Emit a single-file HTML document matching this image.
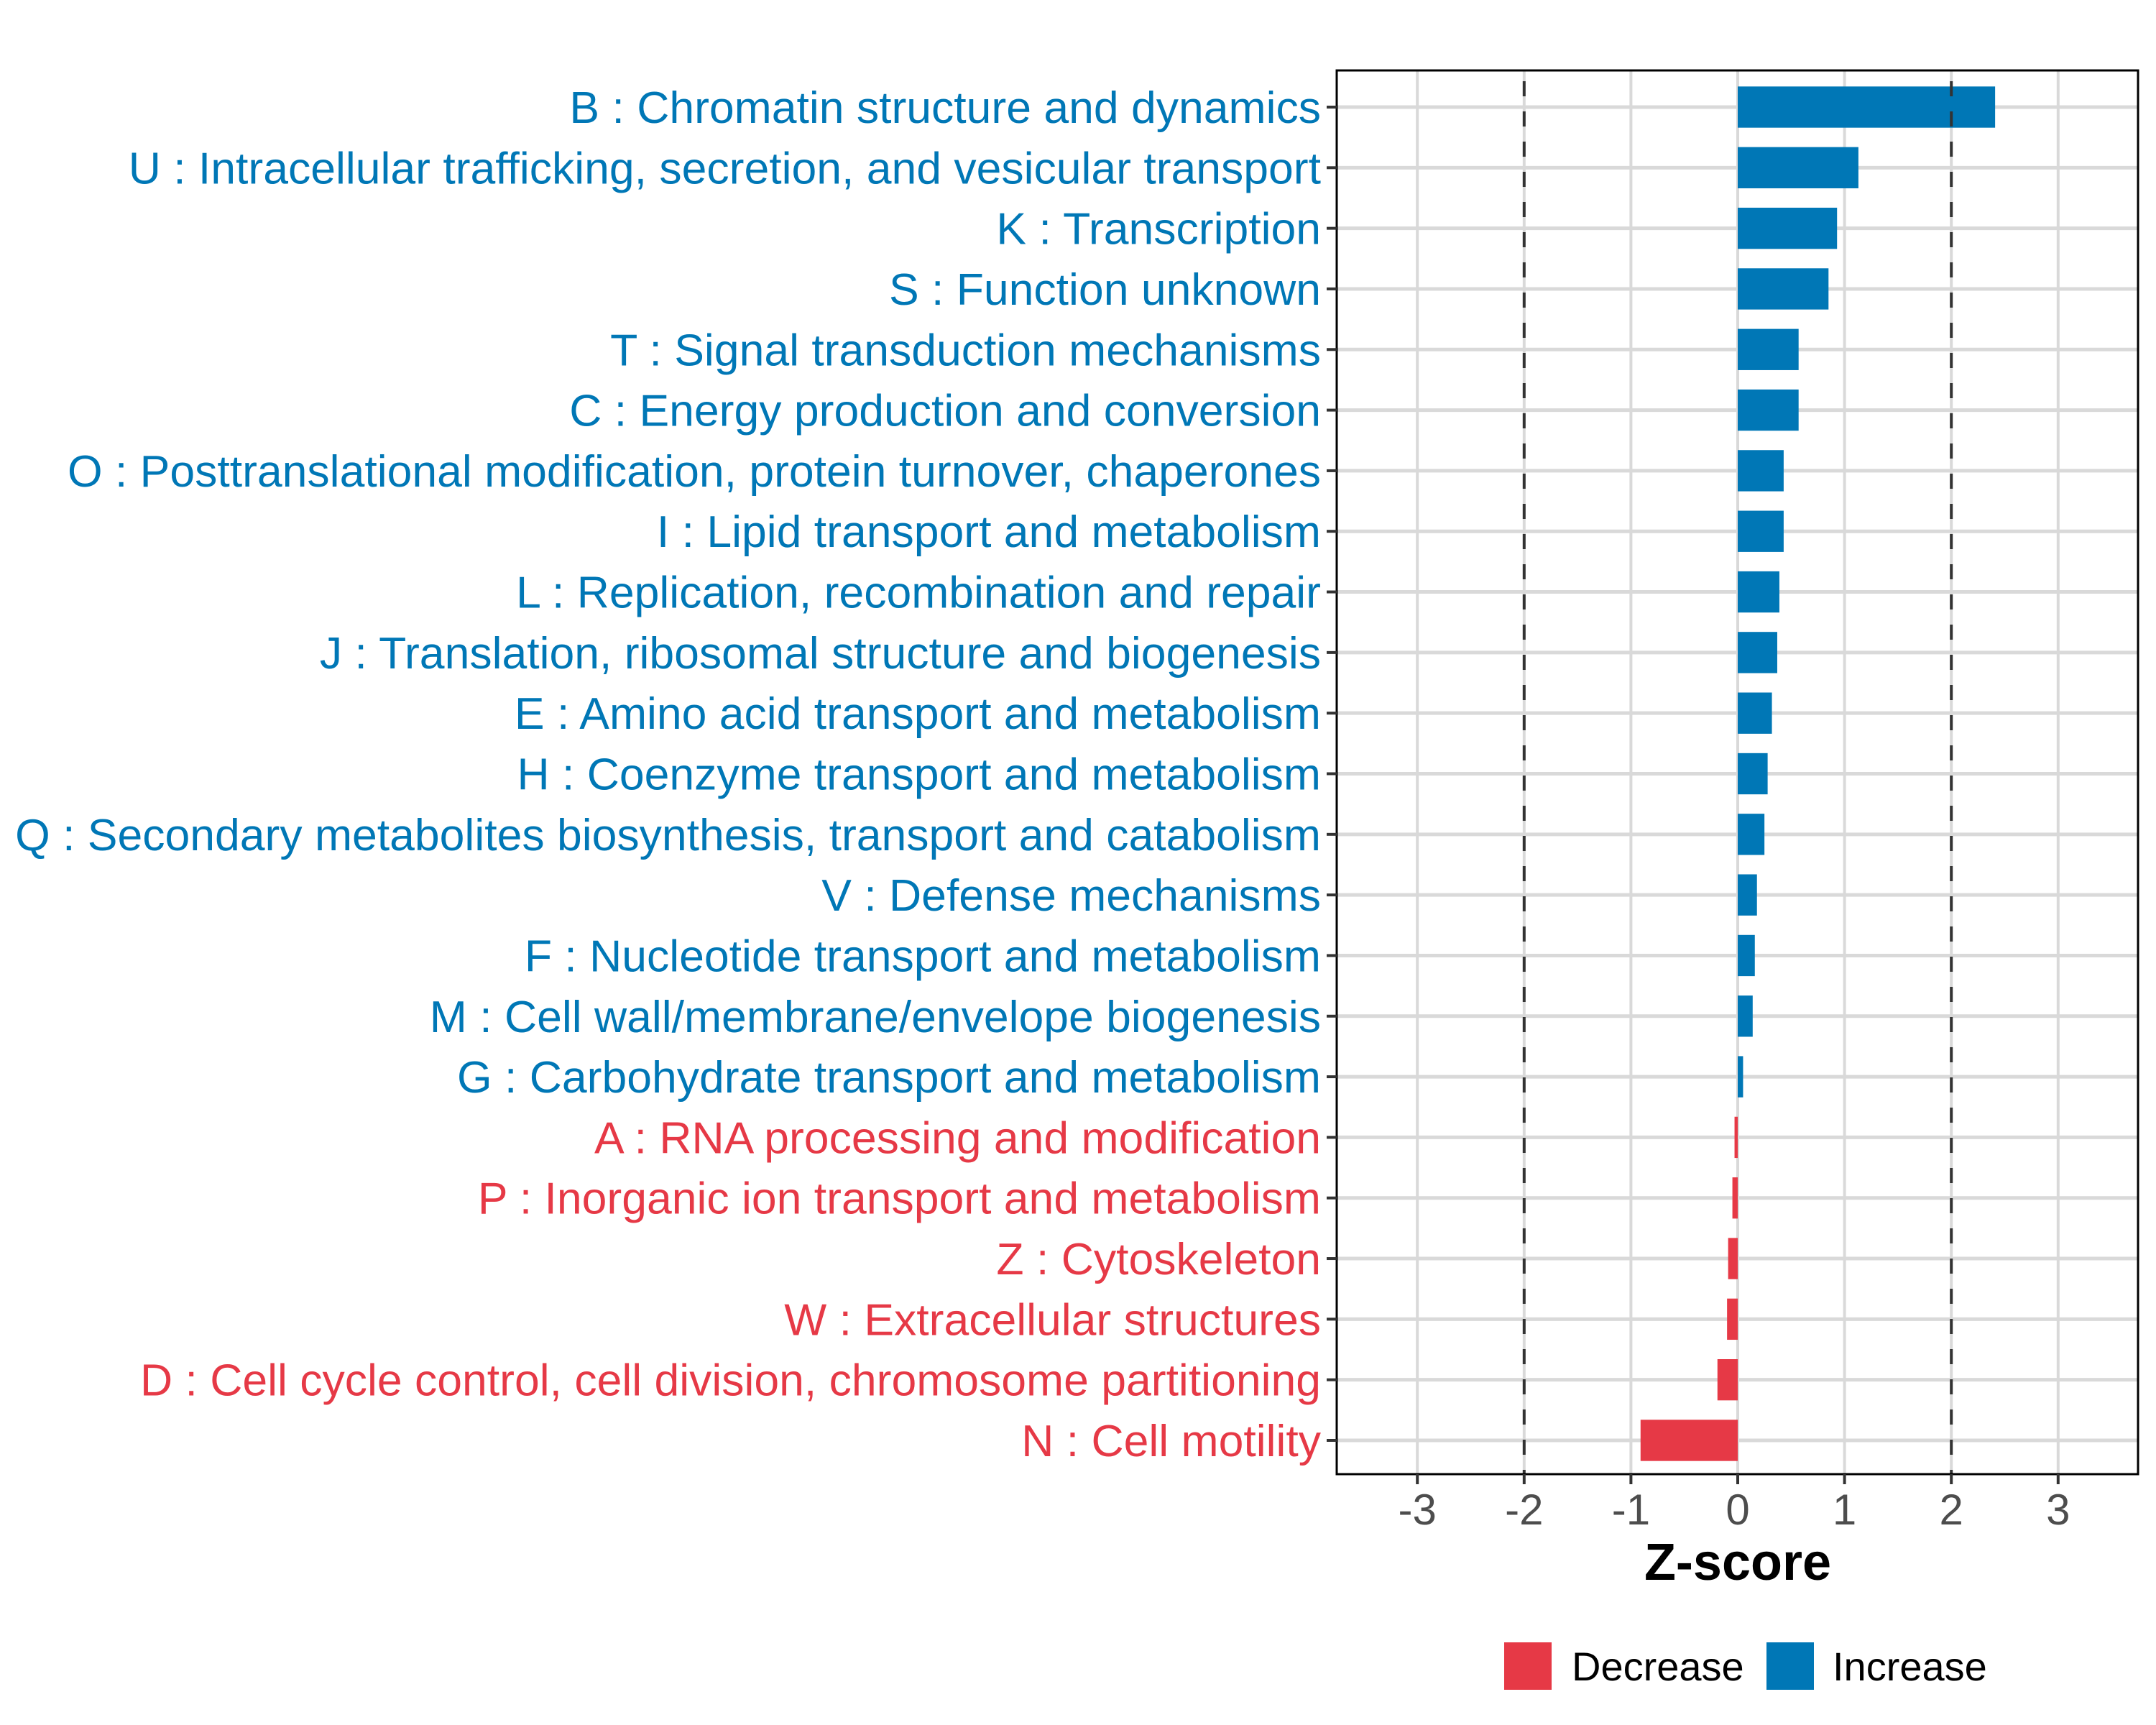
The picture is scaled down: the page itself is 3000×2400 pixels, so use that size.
<!DOCTYPE html>
<html><head><meta charset="utf-8"><style>
html,body{margin:0;padding:0;background:#fff;}
svg{display:block;font-family:"Liberation Sans",sans-serif;}
</style></head><body>
<svg id="chart" width="3000" height="2400" viewBox="0 0 3000 2400" xmlns="http://www.w3.org/2000/svg">
<rect x="0" y="0" width="3000" height="2400" fill="#fff"/>
<g id="grid"></g>
<g id="bars"></g>
<g id="ref"></g>
<rect x="1860" y="98" width="1115" height="1953" fill="none" stroke="#000" stroke-width="3"/>
<g id="yaxis"></g>
<g id="xaxis"></g>
<text x="2418" y="2198" text-anchor="middle" font-size="72" font-weight="bold" fill="#000">Z-score</text>
<g>
<rect x="2093" y="2285" width="66" height="66" fill="#E63946"/>
<text x="2187" y="2338" font-size="56" fill="#000">Decrease</text>
<rect x="2458" y="2285" width="66" height="66" fill="#0077B6"/>
<text x="2550" y="2338" font-size="56" fill="#000">Increase</text>
</g>
</svg>
<script>
const categories = ["B : Chromatin structure and dynamics","U : Intracellular trafficking, secretion, and vesicular transport","K : Transcription","S : Function unknown","T : Signal transduction mechanisms","C : Energy production and conversion","O : Posttranslational modification, protein turnover, chaperones","I : Lipid transport and metabolism","L : Replication, recombination and repair","J : Translation, ribosomal structure and biogenesis","E : Amino acid transport and metabolism","H : Coenzyme transport and metabolism","Q : Secondary metabolites biosynthesis, transport and catabolism","V : Defense mechanisms","F : Nucleotide transport and metabolism","M : Cell wall/membrane/envelope biogenesis","G : Carbohydrate transport and metabolism","A : RNA processing and modification","P : Inorganic ion transport and metabolism","Z : Cytoskeleton","W : Extracellular structures","D : Cell cycle control, cell division, chromosome partitioning","N : Cell motility"];
const zscores = [2.41,1.13,0.93,0.85,0.57,0.57,0.43,0.43,0.39,0.37,0.32,0.28,0.25,0.18,0.16,0.14,0.05,-0.03,-0.05,-0.09,-0.10,-0.19,-0.91];
const xTicks = [-3,-2,-1,0,1,2,3];
const xTickLabels = ["-3","-2","-1","0","1","2","3"];
const refLines = [-2,2];

const NS="http://www.w3.org/2000/svg";
const PL=1860, PR=2975, PT=98, PB=2051;
const x0=2418, unit=148.6;
function xs(v){return x0+v*unit;}
const n=categories.length;
const y1=149, y2=2004;
function ys(i){return y1+i*(y2-y1)/(n-1);}
const step=(y2-y1)/(n-1);
const bh=step*0.68;
const BLUE="#0077B6", RED="#E63946";
function mk(tag,attrs,parent){const e=document.createElementNS(NS,tag);for(const k in attrs)e.setAttribute(k,attrs[k]);parent.appendChild(e);return e;}
const grid=document.getElementById('grid'),bars=document.getElementById('bars'),ref=document.getElementById('ref'),ya=document.getElementById('yaxis'),xa=document.getElementById('xaxis');
xTicks.forEach((t,i)=>{
  const g=mk('line',{x1:xs(t),x2:xs(t),y1:PT,y2:PB,stroke:'#D9D9D9','stroke-width':4},grid);
  
  
  const tk=mk('line',{x1:xs(t),x2:xs(t),y1:PB,y2:PB+14,stroke:'#333','stroke-width':4},xa);
  
  
  const lb=mk('text',{x:xs(t),y:2121,'text-anchor':'middle','font-size':60,fill:'#4D4D4D'},xa);
  lb.textContent=xTickLabels[i];
  
  
});
categories.forEach((c,i)=>{
  const y=ys(i);
  const g=mk('line',{x1:PL,x2:PR,y1:y,y2:y,stroke:'#D9D9D9','stroke-width':5},grid);
  
  
  const v=zscores[i];
  const col=v>=0?BLUE:RED;
  const b=mk('rect',{x:Math.min(xs(0),xs(v)),y:y-bh/2,width:Math.abs(xs(v)-xs(0)),height:bh,fill:col},bars);
  
  
  const tk=mk('line',{x1:PL-14,x2:PL,y1:y,y2:y,stroke:'#333','stroke-width':4},ya);
  
  
  const lb=mk('text',{x:1838,y:y+22,'text-anchor':'end','font-size':62.5,fill:col},ya);
  lb.textContent=c;
  
  
});
refLines.forEach(r=>{
  const l=mk('line',{x1:xs(r),x2:xs(r),y1:PT+15,y2:PB,stroke:'#333','stroke-width':4,'stroke-dasharray':'21 21'},ref);
  
  
});
</script>
</body></html>
